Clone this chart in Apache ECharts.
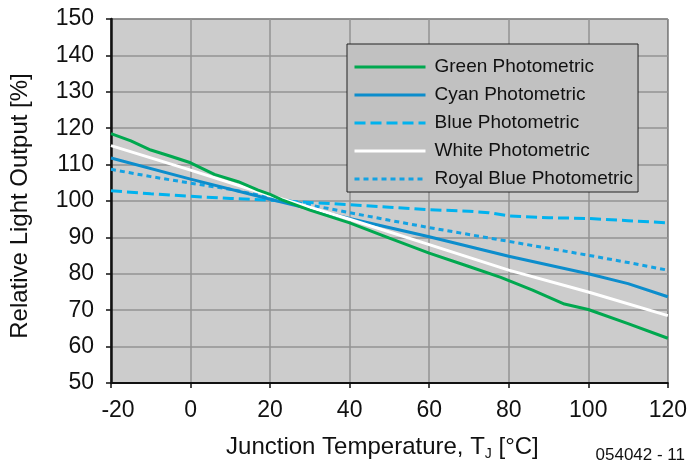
<!DOCTYPE html>
<html>
<head>
<meta charset="utf-8">
<script src="https://cdn.jsdelivr.net/npm/echarts@6/dist/echarts.min.js"></script>
<style>
  html, body { margin: 0; padding: 0; background: #fff; }
  #chart { width: 690px; height: 467px; }
</style>
</head>
<body>
<div id="chart"></div>
<script>
// values, temperature in °C, output in %
var seriesNames = ['Green Photometric', 'Cyan Photometric', 'Blue Photometric', 'White Photometric', 'Royal Blue Photometric']

var greenT = [-20, -15, -10, -5, 0, 6, 12, 17, 20, 23, 30, 40, 50, 60, 70, 78, 86, 94, 100, 110, 120]
var greenV = [118.5, 116.5, 114, 112.3, 110.5, 107.3, 105.3, 103, 101.8, 100.3, 97.5, 94, 89.8, 85.7, 82, 79, 75.5, 71.7, 70.2, 66.3, 62.3]

var cyanT = [-20, 0, 20, 40, 60, 80, 100, 110, 120]
var cyanV = [111.8, 106, 100.5, 95.2, 90.2, 84.8, 80, 77.3, 73.7]

var blueT = [-20, -10, 0, 10, 20, 30, 40, 50, 60, 70, 75, 80, 90, 100, 110, 120]
var blueV = [102.8, 102, 101.3, 100.7, 100.2, 99.6, 99, 98.3, 97.6, 97.2, 96.8, 95.9, 95.4, 95.2, 94.6, 94]

var whiteT = [-20, 0, 20, 40, 60, 80, 100, 120]
var whiteV = [115.2, 108.5, 101.5, 95, 88, 81, 75, 68.5]

var royalT = [-20, -10, 0, 10, 20, 30, 40, 50, 60, 70, 80, 90, 100, 110, 120]
var royalV = [108.7, 106.7, 104.9, 103.2, 101, 98.9, 96.8, 94.7, 92.7, 90.8, 88.9, 87, 85.1, 83.1, 81]

var xTicks = { min: -20, max: 120, step: 20 }
var yTicks = { min: 50, max: 150, step: 10 }

var font = 'Arial, "Liberation Sans", sans-serif'

function pairs(t, v) {
  return t.map(function (x, i) { return [x, v[i]] })
}

function line(name, t, v, color, type) {
  return {
    name: name,
    type: 'line',
    data: pairs(t, v),
    symbol: 'none',
    lineStyle: { color: color, width: 3, type: type },
    itemStyle: { color: color },
    silent: true
  }
}

var chart = echarts.init(document.getElementById('chart'))

chart.setOption({
  animation: false,
  backgroundColor: '#ffffff',
  textStyle: { fontFamily: font },
  grid: {
    left: 110,
    right: 22,
    top: 19,
    bottom: 84,
    show: true,
    backgroundColor: '#cccccc',
    borderColor: '#222',
    borderWidth: 1
  },
  legend: {
    data: seriesNames,
    orient: 'vertical',
    left: 347,
    top: 44,
    backgroundColor: '#c1c1c1',
    borderColor: '#222',
    borderWidth: 1,
    padding: [13, 5, 3, 6],
    itemWidth: 71,
    itemHeight: 14,
    itemGap: 8,
    itemStyle: { opacity: 0 },
    lineStyle: { width: 3 },
    textStyle: { fontSize: 19, color: '#111', fontFamily: font, lineHeight: 20, padding: [0, 0, 0, 4] }
  },
  xAxis: {
    type: 'value',
    min: xTicks.min,
    max: xTicks.max,
    interval: xTicks.step,
    name: 'Junction Temperature, T{sub|J} [°C]',
    nameLocation: 'middle',
    nameGap: 51,
    nameTextStyle: {
      fontSize: 24,
      color: '#111',
      fontFamily: font,
      padding: [0, 14, 0, 0],
      rich: { sub: { fontSize: 14, verticalAlign: 'bottom', padding: [13, 0, 0, 0], color: '#111', fontFamily: font } }
    },
    axisLine: { onZero: false, lineStyle: { color: '#111', width: 2 } },
    axisTick: { show: true, length: 5, lineStyle: { color: '#111', width: 1.5 } },
    axisLabel: {
      fontSize: 23,
      color: '#111',
      margin: 16,
      formatter: function (v) { return v < 0 ? '{neg|-' + (-v) + '}' : String(v) },
      rich: { neg: { fontSize: 23, color: '#111', fontFamily: font, padding: [0, 0, 0, 14] } }
    },
    splitLine: { show: true, lineStyle: { color: '#939393', width: 1.5 } }
  },
  yAxis: {
    type: 'value',
    min: yTicks.min,
    max: yTicks.max,
    interval: yTicks.step,
    name: 'Relative Light Output [%]',
    nameLocation: 'middle',
    nameGap: 79,
    nameRotate: 90,
    nameTextStyle: { fontSize: 24, color: '#111', fontFamily: font, padding: [0, 10, 0, 0] },
    axisLine: { show: true, onZero: false, lineStyle: { color: '#111', width: 2.5 } },
    axisTick: { show: true, length: 5, lineStyle: { color: '#111', width: 1.5 } },
    axisLabel: { fontSize: 23, color: '#111', margin: 17 },
    splitLine: { show: true, lineStyle: { color: '#939393', width: 1.5 } }
  },
  graphic: [{
    type: 'text',
    right: 5,
    bottom: 3,
    style: { text: '054042 - 11', font: '17px ' + font, fill: '#111' }
  }],
  series: [
    line(seriesNames[2], blueT, blueV, '#00b2ee', [11, 5]),
    line(seriesNames[4], royalT, royalV, '#14a2e2', [5, 4]),
    line(seriesNames[1], cyanT, cyanV, '#0c8dcc', 'solid'),
    line(seriesNames[3], whiteT, whiteV, '#ffffff', 'solid'),
    line(seriesNames[0], greenT, greenV, '#00a84f', 'solid')
  ]
})
</script>
</body>
</html>
